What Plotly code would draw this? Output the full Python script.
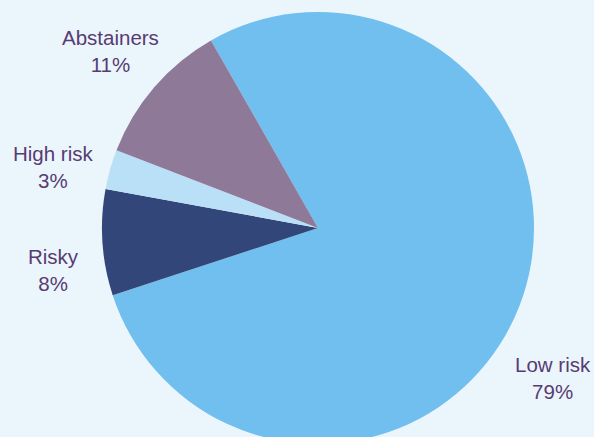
import plotly.graph_objects as go

categories = ["Low risk", "Risky", "High risk", "Abstainers"]
values = [79, 8, 3, 11]
pct_labels = ["79%", "8%", "3%", "11%"]
colors = ["#71BFEF", "#33467A", "#BAE0F7", "#8E7998"]

W, H = 594, 452
cx, cy, r = 318, 228, 216

# label centres in pixels (from top-left)
label_pos = {"Low risk": (553, 378), "Risky": (53, 270),
             "High risk": (53, 167), "Abstainers": (110, 51)}

fig = go.Figure(go.Pie(
    labels=categories, values=values, sort=False, direction="clockwise",
    rotation=-29.7, textinfo="none", hoverinfo="label+percent",
    marker=dict(colors=colors, line=dict(width=0)),
    domain=dict(x=[(cx - r) / W, (cx + r) / W], y=[(H - cy - r) / H, (H - cy + r) / H]),
    showlegend=False,
))

for cat, pct in zip(categories, pct_labels):
    px, py = label_pos[cat]
    fig.add_annotation(x=px / W, y=1 - py / H, xref="paper", yref="paper",
                       text=f"{cat}<br>{pct}", showarrow=False,
                       xanchor="center", yanchor="middle",
                       font=dict(family="Liberation Sans, Arial, sans-serif", size=20.5, color="#573C72"))

fig.update_layout(width=W, height=H, margin=dict(l=0, r=0, t=0, b=0),
                  paper_bgcolor="#EBF5FC", plot_bgcolor="#EBF5FC")

fig.write_html("out.html", post_script="document.body.style.margin='0';document.body.style.overflow='hidden';document.documentElement.style.overflow='hidden';")
